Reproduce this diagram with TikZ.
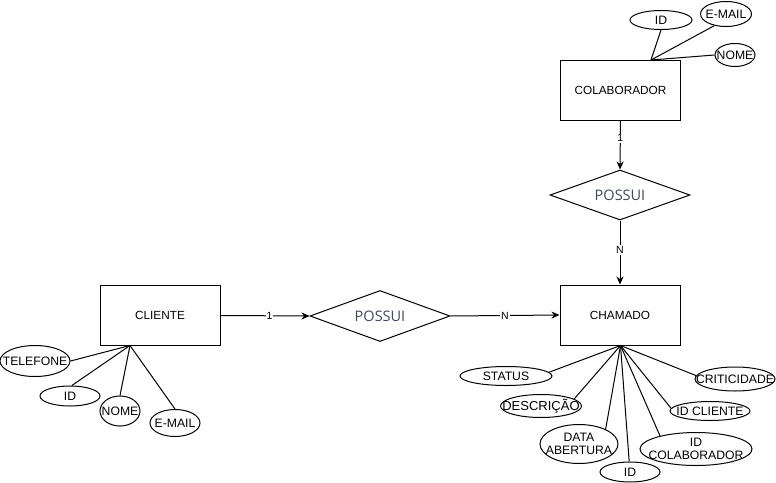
\documentclass[tikz,border=0pt]{standalone}
\usepackage{fontspec}
\setmainfont{Liberation Sans}
\newfontfamily\relfont{Open Sans}
\usetikzlibrary{shapes.geometric,arrows.meta}
\definecolor{reltext}{HTML}{3E4858}
\tikzset{
  entity/.style={draw, line width=1pt, minimum width=120pt, minimum height=60pt, inner sep=0pt, font=\fontsize{11.8}{13}\selectfont},
  attr/.style={draw, ellipse, line width=1pt, inner sep=0pt},
  lbl/.style={inner sep=0pt, align=center, font=\fontsize{12.2}{13.5}\selectfont},
  rel/.style={draw, diamond, line width=1pt, aspect=2.8, inner sep=0pt, minimum width=140pt, minimum height=50pt, text=reltext, font=\relfont\fontsize{14.5}{16}\selectfont},
  link/.style={line width=1pt},
  arrowlink/.style={line width=1pt, -{Stealth[length=8pt,width=7pt,inset=2.5pt]}},
  card/.style={fill=white, inner sep=1pt, font=\fontsize{10.5}{12}\selectfont},
}
\begin{document}
\begin{tikzpicture}[x=1pt,y=-1pt]
\useasboundingbox (0,0) rectangle (776,482);
% entities
\node[entity] (colab) at (620.5,90) {COLABORADOR};
\node[entity] (chamado) at (620,315) {CHAMADO};
\node[entity] (cliente) at (160,315.5) {CLIENTE};
% relationships
\node[rel, minimum width=140pt, minimum height=50pt] (possui1) at (620,195) {POSSUI};
\node[rel, minimum width=140pt, minimum height=51pt] (possui2) at (380,316) {POSSUI};
% colaborador attributes
\node[attr, minimum width=62pt, minimum height=19pt, label={[lbl]center:ID}] (cid) at (661,20) {};
\node[attr, minimum width=51pt, minimum height=25pt, label={[lbl]center:E-MAIL}] (cemail) at (726,14) {};
\node[attr, minimum width=40pt, minimum height=23pt, label={[lbl]center:NOME}] (cnome) at (735,55) {};
\coordinate (colhub) at (651,60);
\draw[link] (colhub) -- (cid.south);
\draw[link] (colhub) -- (cemail.225);
\draw[link] (colhub) -- (cnome.west);
% cliente attributes
\node[attr, minimum width=70pt, minimum height=31pt, label={[lbl]center:TELEFONE}] (ltel) at (35,361) {};
\node[attr, minimum width=60pt, minimum height=20pt, label={[lbl]center:ID}] (lid) at (70,396) {};
\node[attr, minimum width=40pt, minimum height=30pt, label={[lbl]center:NOME}] (lnome) at (120,411) {};
\node[attr, minimum width=50pt, minimum height=27pt, label={[lbl]center:E-MAIL}] (lemail) at (175,423) {};
\coordinate (clihub) at (130,345.5);
\draw[link] (clihub) -- (ltel.east);
\draw[link] (clihub) -- (lid.80);
\draw[link] (clihub) -- (lnome.north);
\draw[link] (clihub) -- (lemail.north);
% chamado attributes
\node[attr, minimum width=92pt, minimum height=19pt, label={[lbl]center:STATUS}] (hstatus) at (506,376) {};
\node[attr, minimum width=81pt, minimum height=23pt, label={[lbl, font=\fontsize{13}{14}\selectfont]center:DESCRIÇÃO}] (hdesc) at (541,406) {};
\node[attr, minimum width=78pt, minimum height=39pt, label={[lbl]center:DATA\\ABERTURA}] (hdata) at (579,444) {};
\node[attr, minimum width=60pt, minimum height=20pt, label={[lbl]center:ID}] (hid) at (630,472) {};
\node[attr, minimum width=112pt, minimum height=33pt, label={[lbl]center:ID\\COLABORADOR}] (hidcol) at (696,449) {};
\node[attr, minimum width=80pt, minimum height=19pt, label={[lbl]center:ID CLIENTE}] (hidcli) at (710,411) {};
\node[attr, minimum width=80pt, minimum height=24pt, label={[lbl]center:CRITICIDADE}] (hcrit) at (735,379) {};
\coordinate (chahub) at (620.5,345.5);
\draw[link] (chahub) -- (hstatus.5);
\draw[link] (chahub) -- (hdesc.12);
\draw[link] (chahub) -- (hdata.29);
\draw[link] (chahub) -- (hid);
\draw[link] (chahub) -- (hidcol.160);
\draw[link] (chahub) -- (hidcli.176);
\draw[link] (chahub) -- (hcrit.175);
% relationship connectors
\draw[arrowlink] (colab.south) -- node[card, pos=0.36] {1} (possui1.north);
\draw[arrowlink] (possui1.south) -- node[card, pos=0.46] {N} (chamado.north);
\draw[arrowlink] (cliente.east) -- node[card, pos=0.55] {1} (possui2.west);
\draw[arrowlink] (possui2.east) -- node[card, pos=0.5] {N} (chamado.west);
\end{tikzpicture}
\end{document}
